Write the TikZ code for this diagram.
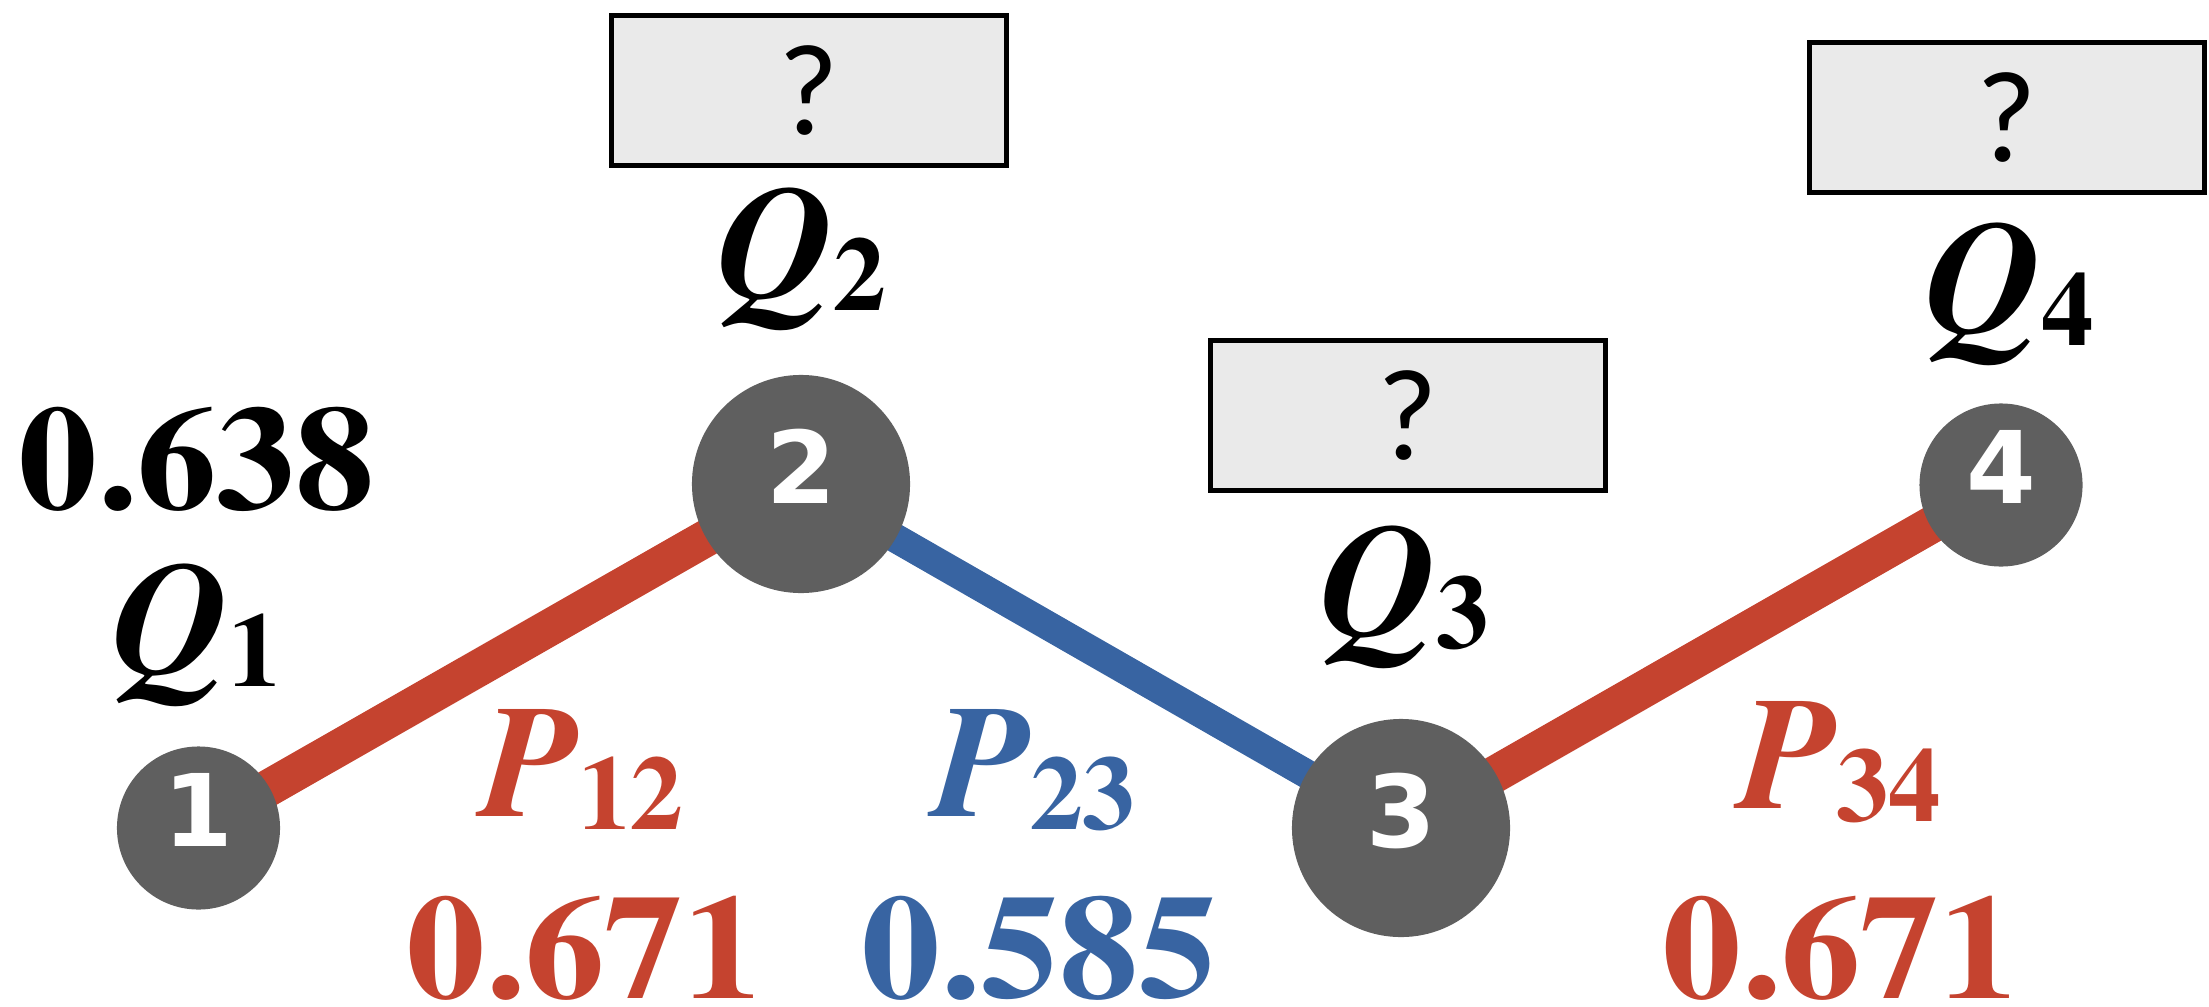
\documentclass[tikz,border=0pt]{standalone}
\usepackage[T1]{fontenc}
\usepackage{fontspec}
\setmainfont{Liberation Serif}
\newfontfamily\nodefont{DejaVu Sans}
\newfontfamily\askfont{Carlito}
\newcommand{\tms}{\fontencoding{T1}\fontfamily{ptm}\selectfont}
\usetikzlibrary{backgrounds}
\definecolor{ered}{HTML}{C5432F}
\definecolor{eblue}{HTML}{3864A2}
\definecolor{ngray}{HTML}{5F5F5F}
\definecolor{bfill}{HTML}{EAEAEA}
\newcommand{\symsub}[2]{{\tms\fontsize{45.5}{50}\selectfont\bfseries\itshape #1}\raisebox{-3.7pt}{\tms\fontsize{30}{32}\selectfont\bfseries #2}}
\newcommand{\valtxt}[1]{\scalebox{1}[0.94]{#1}}
\begin{document}
\begin{tikzpicture}[x=0.01cm,y=-0.01cm,
  vertex/.style={circle,fill=ngray,inner sep=0pt,text=white,font=\nodefont\bfseries\fontsize{28.5}{30}\selectfont,text depth=0.36cm},
  smallv/.style={minimum size=1.63cm},
  bigv/.style={minimum size=2.18cm},
  qbox/.style={draw=black,line width=0.05cm,fill=bfill,minimum width=3.95cm,minimum height=1.50cm,inner sep=0pt,font=\askfont\fontsize{37}{40}\selectfont},
  lbl/.style={anchor=base,inner sep=0pt},
  num/.style={anchor=base,inner sep=0pt,font=\tms\fontsize{45}{50}\selectfont\bfseries},
  redline/.style={ered,line width=0.37cm},
  blueline/.style={eblue,line width=0.29cm}]
\useasboundingbox (0,0) rectangle (2209,1006);

% vertices
\node[vertex,smallv] (n1) at (198.5,828) {1};
\node[vertex,bigv]   (n2) at (801,484) {2};
\node[vertex,bigv]   (n3) at (1401,828) {3};
\node[vertex,smallv] (n4) at (2001,485) {4};

% edges
\begin{scope}[on background layer]
\draw[redline]  (n1.center) -- (n2.center);
\draw[blueline] (n2.center) -- (n3.center);
\draw[redline]  (n3.center) -- (n4.center);
\end{scope}

% boxes
\node[qbox] (b2) at (809,90.5) {?};
\node[qbox] (b3) at (1408,415.5) {?};
\node[qbox] (b4) at (2007,117.5) {?};

% Q labels
\node[lbl] (q1) at (197,673) {\symsub{Q}{1}};
\node[lbl] (q2) at (802,297) {\symsub{Q}{2}};
\node[lbl] (q3) at (1405,635) {\symsub{Q}{3}};
\node[lbl] (q4) at (2010,332) {\symsub{Q}{4}};
\node[num] (v1) at (197,509) {\valtxt{0.638}};

% P labels
\node[lbl,text=ered]  (p12) at (582,816) {\symsub{P}{12}};
\node[lbl,text=eblue] (p23) at (1034,816) {\symsub{P}{23}};
\node[lbl,text=ered]  (p34) at (1840,808) {\symsub{P}{34}};
\node[num,text=ered]  (v12) at (585,998) {\valtxt{0.671}};
\node[num,text=eblue] (v23) at (1040,998) {\valtxt{0.585}};
\node[num,text=ered]  (v34) at (1841,998) {\valtxt{0.671}};
\end{tikzpicture}
\end{document}
